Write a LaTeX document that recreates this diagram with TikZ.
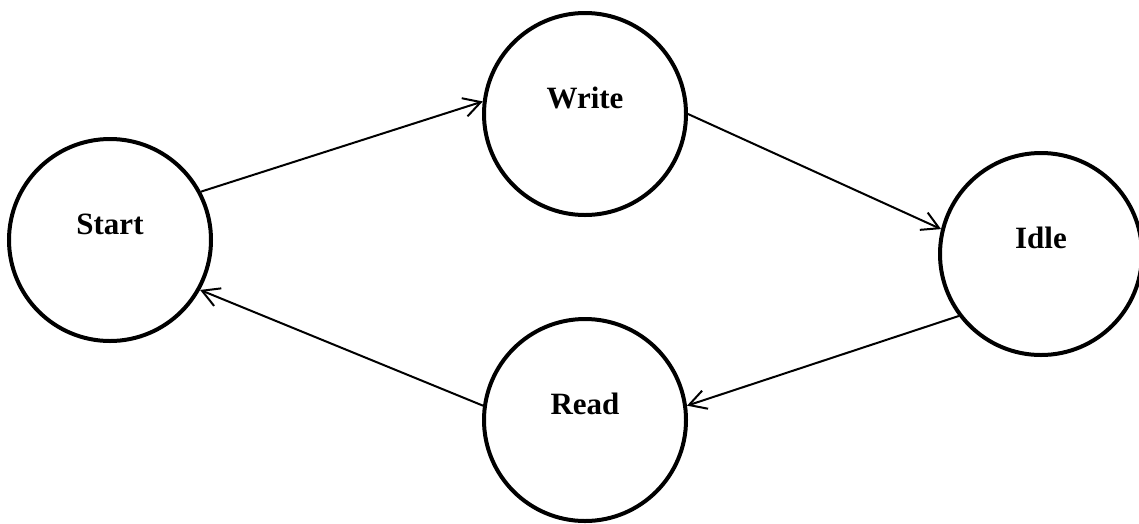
\documentclass[tikz,border=0pt]{standalone}
\usepackage{fontspec}
\setmainfont{Liberation Serif}
\usetikzlibrary{arrows.meta}
\begin{document}
\begin{tikzpicture}[x=1pt,y=-1pt,
  state/.style={circle,draw=black,line width=4pt,minimum size=202pt,inner sep=0pt,
    font=\fontsize{31}{31}\selectfont\bfseries,text height=22pt,text depth=34pt},
  trans/.style={line width=2pt,-{Straight Barb[length=17pt,width=19pt,line width=2pt]}}]
\useasboundingbox (0,0) rectangle (1139,523);
\node[state] (start) at (110,240) {Start};
\node[state] (write) at (585,114) {Write};
\node[state] (idle)  at (1041,254) {Idle};
\node[state] (read)  at (585,420) {Read};
\draw[trans] (start.28.5) -- (write.173.4);
\draw[trans] (write.0) -- (idle.166.6);
\draw[trans] (idle.217) -- (read.8.3);
\draw[trans] (read.172) -- (start.-29.7);
\end{tikzpicture}
\end{document}
